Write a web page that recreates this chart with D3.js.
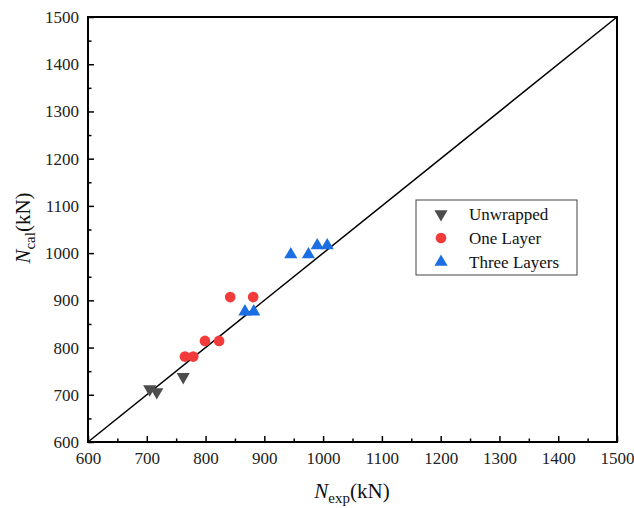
<!DOCTYPE html>
<html>
<head>
<meta charset="utf-8">
<script src="https://cdn.jsdelivr.net/npm/d3@7"></script>
<style>
  body { margin: 0; background: white; }
  text { font-family: "Liberation Serif", "Times New Roman", serif; }
</style>
</head>
<body>
<script>
// values
var unwrappedExp = [705, 717, 762];
var unwrappedCal = [712, 706, 738];
var oneLayerExp = [765, 779, 799, 823, 842, 881];
var oneLayerCal = [781, 781, 814, 814, 907, 907];
var threeLayerExp = [867, 882, 945, 975, 990, 1007];
var threeLayerCal = [876, 876, 997, 997, 1016, 1016];
var majorTicks = [600, 700, 800, 900, 1000, 1100, 1200, 1300, 1400, 1500];
var minorTicks = [650, 750, 850, 950, 1050, 1150, 1250, 1350, 1450];
var seriesNames = ["Unwrapped", "One Layer", "Three Layers"];

var W = 634, H = 508;
var plotL = 88, plotR = 617, plotT = 17, plotB = 442;

var svg = d3.select("body").append("svg")
    .attr("width", W).attr("height", H);

var x = d3.scaleLinear().domain([600, 1500]).range([plotL, plotR]);
var y = d3.scaleLinear().domain([600, 1500]).range([plotB, plotT]);

// frame
svg.append("rect")
    .attr("x", plotL).attr("y", plotT)
    .attr("width", plotR - plotL).attr("height", plotB - plotT)
    .attr("fill", "none").attr("stroke", "black").attr("stroke-width", 2);

// axes, ticks point inward
function styleAxis(g) {
  g.select(".domain").remove();
  g.selectAll(".tick line").attr("stroke", "black").attr("stroke-width", 1.5);
  g.selectAll("text").attr("font-size", 17).attr("fill", "#222")
    .style("font-family", "Liberation Serif, serif");
}
svg.append("g").attr("transform", "translate(0," + plotB + ")")
    .call(d3.axisBottom(x).tickValues(majorTicks).tickSize(-6).tickPadding(10).tickFormat(d3.format("d")))
    .call(styleAxis);
svg.append("g").attr("transform", "translate(0," + plotB + ")")
    .call(d3.axisBottom(x).tickValues(minorTicks).tickSize(-3.5).tickFormat(""))
    .call(styleAxis);
svg.append("g").attr("transform", "translate(" + plotL + ",0)")
    .call(d3.axisLeft(y).tickValues(majorTicks).tickSize(-6).tickPadding(9).tickFormat(d3.format("d")))
    .call(styleAxis);
svg.append("g").attr("transform", "translate(" + plotL + ",0)")
    .call(d3.axisLeft(y).tickValues(minorTicks).tickSize(-3.5).tickFormat(""))
    .call(styleAxis);

// 1:1 line
svg.append("line")
    .attr("x1", x(600)).attr("y1", y(600))
    .attr("x2", x(1500)).attr("y2", y(1500))
    .attr("stroke", "black").attr("stroke-width", 1.5);

var colours = ["#4d4d4d", "#f23c3c", "#1c6fe3"];
var symbols = [
  d3.symbol().type(d3.symbolTriangle).size(75),
  d3.symbol().type(d3.symbolCircle).size(90),
  d3.symbol().type(d3.symbolTriangle).size(75)
];
var rot = [180, 0, 0];

var series = [
  d3.zip(unwrappedExp, unwrappedCal),
  d3.zip(oneLayerExp, oneLayerCal),
  d3.zip(threeLayerExp, threeLayerCal)
];

series.forEach(function(pts, i) {
  svg.append("g").selectAll("path")
    .data(pts)
    .enter().append("path")
    .attr("d", symbols[i])
    .attr("transform", function(d) {
      return "translate(" + x(d[0]) + "," + y(d[1]) + ") rotate(" + rot[i] + ")";
    })
    .attr("fill", colours[i]);
});

// legend
var lg = svg.append("g");
lg.append("rect")
    .attr("x", 416).attr("y", 200).attr("width", 161).attr("height", 75)
    .attr("fill", "white").attr("stroke", "#444").attr("stroke-width", 1);
seriesNames.forEach(function(name, i) {
  var ly = 214 + i * 24;
  lg.append("path")
    .attr("d", symbols[i])
    .attr("transform", "translate(441," + ly + ") rotate(" + rot[i] + ")")
    .attr("fill", colours[i]);
  lg.append("text")
    .attr("x", 469).attr("y", ly + 5.5)
    .attr("font-size", 17).attr("fill", "#111")
    .text(name);
});

// axis titles
var xt = svg.append("text")
    .attr("x", 352).attr("y", 498)
    .attr("text-anchor", "middle")
    .attr("font-size", 21).attr("fill", "#111");
xt.append("tspan").attr("font-style", "italic").text("N");
xt.append("tspan").attr("font-size", 15).attr("dy", 5).text("exp");
xt.append("tspan").attr("dy", -5).text("(kN)");

var yt = svg.append("text")
    .attr("transform", "translate(30,228) rotate(-90)")
    .attr("text-anchor", "middle")
    .attr("font-size", 21).attr("fill", "#111");
yt.append("tspan").attr("font-style", "italic").text("N");
yt.append("tspan").attr("font-size", 15).attr("dy", 5).text("cal");
yt.append("tspan").attr("dy", -5).text("(kN)");
</script>
</body>
</html>
